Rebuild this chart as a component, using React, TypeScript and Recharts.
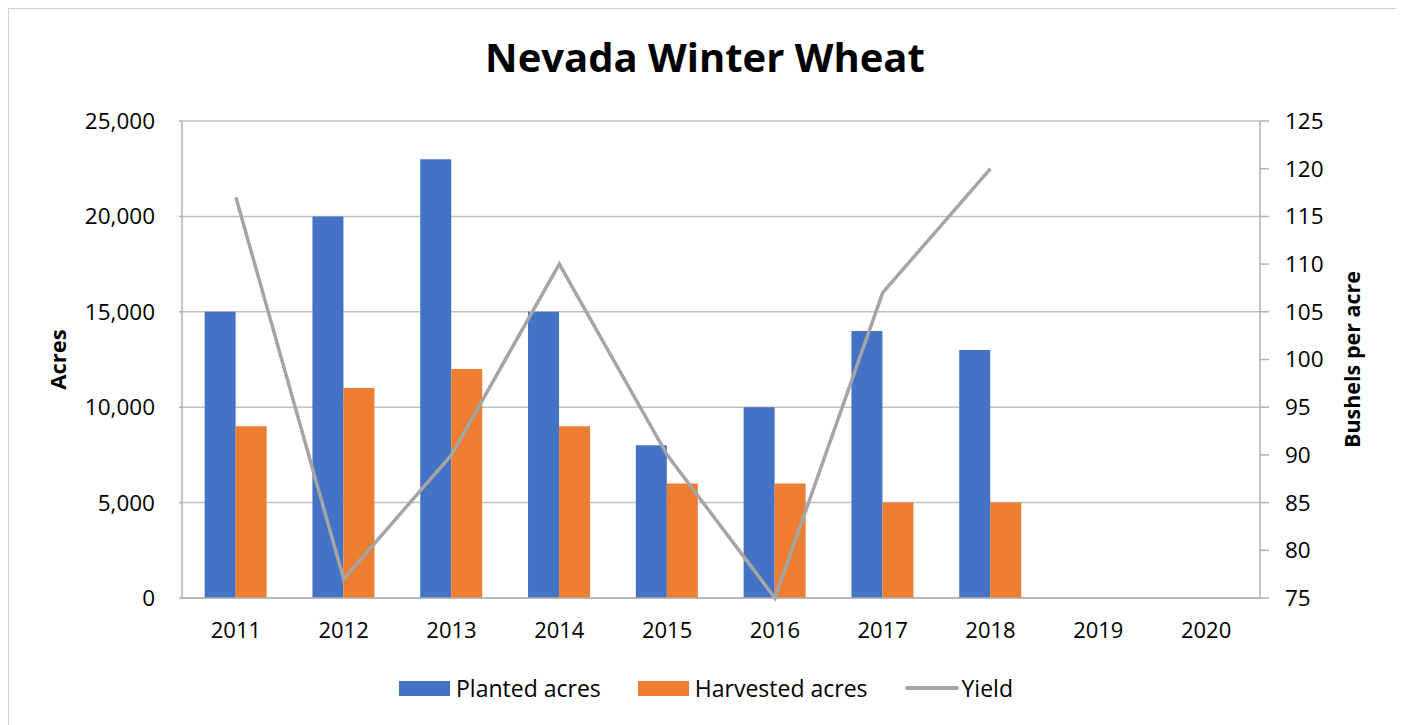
import React from "react";
import { ComposedChart, Bar, Line, XAxis, YAxis, CartesianGrid, Legend } from "recharts";

const years = ["2011", "2012", "2013", "2014", "2015", "2016", "2017", "2018", "2019", "2020"];
const planted = [15000, 20000, 23000, 15000, 8000, 10000, 14000, 13000, null, null];
const harvested = [9000, 11000, 12000, 9000, 6000, 6000, 5000, 5000, null, null];
const yieldVals = [117, 77, 90, 110, 90, 75, 107, 120, null, null];
const leftTicks = [0, 5000, 10000, 15000, 20000, 25000];
const rightTicks = [75, 80, 85, 90, 95, 100, 105, 110, 115, 120, 125];
const boundaryTicks = [0, 1, 2, 3, 4, 5, 6, 7, 8, 9, 10];

const data = years.map((y, i) => ({
  year: y,
  planted: planted[i],
  harvested: harvested[i],
  yield: yieldVals[i],
}));

const FONT = "'Open Sans', 'Noto Sans', sans-serif";
const fmt = (v: number) => v.toLocaleString("en-US");

const legendItems = [
  { label: "Planted acres", color: "#4472c4", type: "rect" },
  { label: "Harvested acres", color: "#ed7d31", type: "rect" },
  { label: "Yield", color: "#a5a5a5", type: "line" },
];

const LegendContent = () => (
  <div style={{ display: "flex", justifyContent: "center", alignItems: "center", fontFamily: FONT, fontSize: 23, color: "#000", height: 32 }}>
    {legendItems.map((it, i) => (
      <div key={i} style={{ display: "flex", alignItems: "center", marginLeft: i === 0 ? 0 : 37 }}>
        {it.type === "rect" ? (
          <div style={{ width: 51, height: 15, background: it.color, marginRight: 6 }} />
        ) : (
          <div style={{ width: 54, height: 4, background: it.color, marginRight: 3, borderRadius: 2 }} />
        )}
        <span>{it.label}</span>
      </div>
    ))}
  </div>
);

export default function App() {
  return (
    <div style={{ position: "relative", width: 1404, height: 725, marginLeft: -8, marginTop: -8, background: "#fff", overflow: "hidden" }}>
      <div style={{ position: "absolute", left: 7, top: 7, width: 1388, height: 740, border: "2px solid #d0d0d0" }} />
      <div style={{ position: "absolute", left: 0, top: 29, width: 1410, textAlign: "center", fontFamily: FONT, fontWeight: 700, fontSize: 40, color: "#000" }}>
        Nevada Winter Wheat
      </div>
      <div style={{ position: "absolute", left: 0, top: 0 }}>
        <ComposedChart
          width={1404}
          height={725}
          data={data}
          margin={{ top: 121, right: 0, bottom: 0, left: 0 }}
          barCategoryGap="21%"
          barGap={0}
        >
          <CartesianGrid yAxisId="left" vertical={false} stroke="#c0c0c0" strokeWidth={1.5} />
          <XAxis
            xAxisId="b"
            type="number"
            domain={[0, 10]}
            ticks={boundaryTicks}
            allowDataOverflow
            height={0}
            tick={false}
            axisLine={false}
            tickLine={{ stroke: "#b0b0b0", strokeWidth: 1.5 }}
            tickSize={8}
          />
          <XAxis
            dataKey="year"
            height={127}
            axisLine={{ stroke: "#b0b0b0", strokeWidth: 1.5 }}
            tickLine={false}
            tickMargin={18}
            tick={{ fontFamily: FONT, fontSize: 22, fill: "#000" }}
          />
          <YAxis
            yAxisId="left"
            width={182}
            domain={[0, 25000]}
            ticks={leftTicks}
            tickFormatter={fmt}
            axisLine={{ stroke: "#b0b0b0", strokeWidth: 1.5 }}
            tickLine={{ stroke: "#b0b0b0", strokeWidth: 1.5 }}
            tickSize={3}
            tickMargin={24}
            tick={{ fontFamily: FONT, fontSize: 22.5, fill: "#000" }}
            label={{ value: "Acres", angle: -90, position: "insideLeft", offset: 58, style: { fontFamily: FONT, fontSize: 22, fontWeight: 700, fill: "#000", textAnchor: "middle" } }}
          />
          <YAxis
            yAxisId="right"
            orientation="right"
            width={144}
            domain={[75, 125]}
            ticks={rightTicks}
            axisLine={{ stroke: "#b0b0b0", strokeWidth: 1.5 }}
            tickLine={{ stroke: "#b0b0b0", strokeWidth: 1.5 }}
            tickSize={9}
            tickMargin={16}
            tick={{ fontFamily: FONT, fontSize: 22.5, fill: "#000" }}
            label={{ value: "Bushels per acre", angle: -90, position: "insideRight", offset: 52, style: { fontFamily: FONT, fontSize: 21.5, fontWeight: 700, fill: "#000", textAnchor: "middle" } }}
          />
          <Bar yAxisId="left" dataKey="planted" name="Planted acres" fill="#4472c4" isAnimationActive={false} />
          <Bar yAxisId="left" dataKey="harvested" name="Harvested acres" fill="#ed7d31" isAnimationActive={false} />
          <Line yAxisId="right" dataKey="yield" name="Yield" stroke="#a5a5a5" strokeWidth={3.5} dot={false} activeDot={false} connectNulls={false} isAnimationActive={false} />
          <Legend
            layout="horizontal"
            verticalAlign="middle"
            align="center"
            content={<LegendContent />}
            wrapperStyle={{ position: "absolute", top: 672, left: 0, width: 1412 }}
          />
        </ComposedChart>
      </div>
    </div>
  );
}
